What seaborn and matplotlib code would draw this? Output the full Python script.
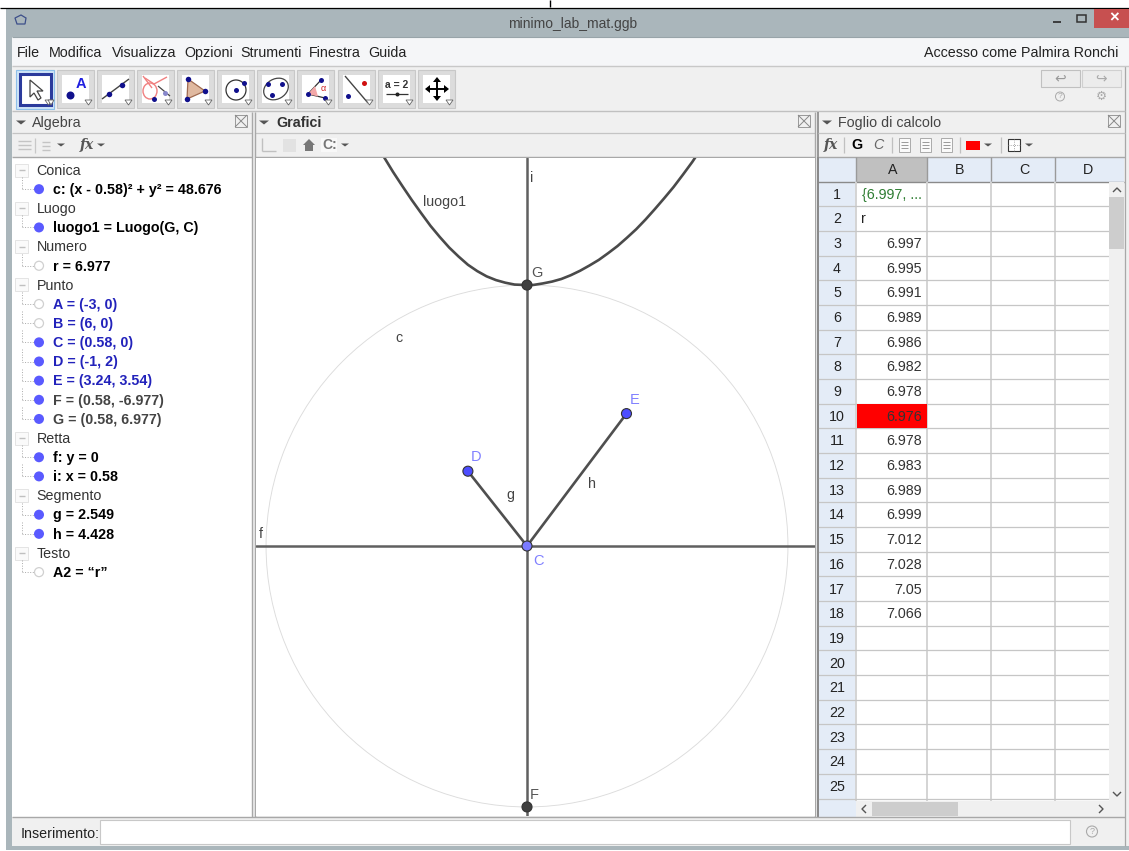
#!/usr/bin/env python3

import matplotlib
matplotlib.use("Agg")
import matplotlib.pyplot as plt
from matplotlib.patches import Circle, Ellipse, Polygon, Rectangle
import seaborn as sns

sns.set_theme(style="white")
plt.rcParams["font.family"] = ["Liberation Sans", "DejaVu Sans"]

# geometry read from the graphics view
point_names = ["C", "D", "E", "F", "G"]
point_x = [0.58, -1, 3.24, 0.58, 0.58]
point_y = [0, 2, 3.54, -6.977, 6.977]
radius = 6.977
locus_x = [-3.3, -3, -2.75, -2.5, -2.25, -2, -1.75, -1.5, -1.25, -1, -0.75, -0.5, -0.25, 0, 0.25,
           0.58, 0.75, 1, 1.25, 1.5, 1.75, 2, 2.25, 2.5, 2.75, 3, 3.25, 3.5, 3.75, 4, 4.25, 4.5, 4.75, 5, 5.2]
locus_y = [10.49, 10.0, 9.62, 9.25, 8.9, 8.56, 8.26, 7.98, 7.74, 7.52, 7.35, 7.21, 7.11, 7.04, 6.99,
           6.977, 6.98, 7.02, 7.07, 7.14, 7.24, 7.36, 7.5, 7.65, 7.83, 8.02, 8.24, 8.47, 8.73, 9.01, 9.3, 9.6, 9.93, 10.27, 10.57]

# algebra view
algebra_groups = ["Conica", "Luogo", "Numero", "Punto", "Retta", "Segmento", "Testo"]
algebra_items = [
    ["c: (x - 0.58)² + y² = 48.676"],
    ["luogo1 = Luogo(G, C)"],
    ["r = 6.977"],
    ["A = (-3, 0)", "B = (6, 0)", "C = (0.58, 0)", "D = (-1, 2)", "E = (3.24, 3.54)",
     "F = (0.58, -6.977)", "G = (0.58, 6.977)"],
    ["f: y = 0", "i: x = 0.58"],
    ["g = 2.549", "h = 4.428"],
    ["A2 = “r”"],
]
hidden_items = ["r = 6.977", "A = (-3, 0)", "B = (6, 0)", "A2 = “r”"]
blue_items = ["A = (-3, 0)", "B = (6, 0)", "C = (0.58, 0)", "D = (-1, 2)", "E = (3.24, 3.54)"]
grey_items = ["F = (0.58, -6.977)", "G = (0.58, 6.977)"]

# spreadsheet
column_names = ["A", "B", "C", "D"]
column_edges = [856, 927, 991, 1055, 1118]
row_numbers = list(range(1, 26))
r_values = ["6.997", "6.995", "6.991", "6.989", "6.986", "6.982", "6.978", "6.976", "6.978",
            "6.983", "6.989", "6.999", "7.012", "7.028", "7.05", "7.066"]

menu_names = ["File", "Modifica", "Visualizza", "Opzioni", "Strumenti", "Finestra", "Guida"]
menu_pos = [17, 49, 112, 184, 240, 309, 368]
tool_edges = [17, 57, 97, 137, 177, 217, 257, 297, 338, 378, 418]

WINDOW = "#aab6bb"
PANEL = "#f0f0f0"
BORDER = "#a8a8a8"
HEADER = "#e4ecf7"
TEXT = "#222222"
BLUE_DOT = "#5a5aff"
NAVY = "#10108c"
FS = 10.3


def rect(ax, x0, y0, x1, y1, color, edge=None, lw=0.8, z=1):
    ax.add_patch(Rectangle((x0, y0), x1 - x0, y1 - y0, facecolor=color, edgecolor=edge or "none", linewidth=lw, zorder=z))


def line(ax, xs, ys, color="#333333", lw=1.0, z=3, ls="-"):
    ax.plot(xs, ys, color=color, lw=lw, zorder=z, ls=ls, solid_capstyle="butt")


def dot(ax, x, y, size=6, color=NAVY, z=4):
    ax.plot([x], [y], "o", ms=size * 0.72, mfc=color, mec="none", zorder=z)


def label(ax, x, y, s, size=FS, color=TEXT, ha="left", **kw):
    ax.text(x, y + 0.8, s, fontsize=size, color=color, ha=ha, va="center", zorder=5, **kw)


def triangle(ax, x, y, w=5, h=4, color="#555555", z=4):
    ax.add_patch(Polygon([(x - w, y - h / 2), (x + w, y - h / 2), (x, y + h / 2)], closed=True, facecolor=color, edgecolor="none", zorder=z))


def draw_window(ax):
    rect(ax, 0, 0, 1129, 8, "white")
    line(ax, [0, 1129], [7.5, 7.5], "black", 0.9)
    line(ax, [550, 550], [0, 7], "black", 1.0)
    rect(ax, 340, 8, 420, 9, "#8c8c7c", z=2)
    rect(ax, 483, 8, 840, 9, "#9a9a9a", z=2)
    rect(ax, 6, 9, 1129, 851, WINDOW)
    rect(ax, 12, 37, 1129, 846, PANEL)
    line(ax, [1124.5, 1124.5], [66, 846], "#a8a8a8", 0.9)
    rect(ax, 6, 850, 1129, 851, "white", z=2)

    label(ax, 573, 23, "minimo_lab_mat.ggb", size=10, color="#444444", ha="center")
    ax.add_patch(Polygon([(21, 15), (26, 18), (25, 24), (17, 24), (15, 18)], closed=True, fill=False, edgecolor="#3d4f8a", lw=0.9, zorder=4))
    rect(ax, 1094, 9, 1129, 28, "#c75050", z=3)
    label(ax, 1114, 17.5, "×", size=12, color="white", ha="center", fontweight="bold")
    line(ax, [1053, 1061], [22, 22], "#333333", 1.3)
    rect(ax, 1077, 15, 1086, 22, "none", edge="#333333", lw=1.1, z=4)

    rect(ax, 12, 37, 1129, 66, "#f5f6f8", z=2)
    line(ax, [12, 1129], [66, 66], "#c8c8c8", 1.0)
    line(ax, [12, 1129], [37, 37], "#98a4a9", 0.8)
    for name, pos in zip(menu_names, menu_pos):
        label(ax, pos, 52, name)
    label(ax, 1118, 52, "Accesso come Palmira Ronchi", ha="right")

    line(ax, [12, 1125], [111, 111], "#c0c0c0", 1.0)
    # undo, redo, help, settings
    rect(ax, 1041, 70, 1080, 87, "#ececec", edge="#c0c0c0", z=3)
    rect(ax, 1082, 70, 1121, 87, "#ececec", edge="#d0d0d0", z=3)
    label(ax, 1060, 77.5, "↩", size=10, color="#999999", ha="center")
    label(ax, 1101, 77.5, "↪", size=10, color="#aaaaaa", ha="center")
    ax.add_patch(Circle((1060, 96.5), 4.5, fill=False, edgecolor="#aaaaaa", lw=0.7, zorder=4))
    label(ax, 1060, 96, "?", size=6, color="#aaaaaa", ha="center")
    label(ax, 1101, 96, "⚙", size=9, color="#aaaaaa", ha="center")


def draw_tools(ax):
    for x0 in tool_edges:
        rect(ax, x0, 70, x0 + 37, 108, "#dcdcdc", edge="#c8c8c8", z=2)
        rect(ax, x0 + 5, 75, x0 + 32, 103, "white", z=3)
        tri = [(x0 + 28, 100), (x0 + 35, 100), (x0 + 31.5, 105)]
        ax.add_patch(Polygon(tri, closed=True, facecolor="white", edgecolor="#666666", lw=0.6, zorder=6))
    # selected arrow tool
    rect(ax, 16, 70, 54, 109, "#cfe4f7", edge="#8ec0ea", z=3)
    rect(ax, 19.5, 73.5, 50.5, 105, "white", edge="#2b3a9c", lw=2.2, z=3.5)
    arrow = [(30, 80), (30, 97), (34, 93), (38, 100), (41, 98), (37, 91), (43, 91)]
    ax.add_patch(Polygon(arrow, closed=True, facecolor="white", edgecolor="#444444", lw=0.9, zorder=5))
    tri = [(48, 100), (54, 100), (51, 105)]
    ax.add_patch(Polygon(tri, closed=True, facecolor="white", edgecolor="#666666", lw=0.6, zorder=6))
    # point
    dot(ax, 70, 95, 8)
    label(ax, 80.5, 83, "A", size=10.5, color="#2020e0", ha="center", fontweight="bold")
    # line through two points
    line(ax, [102, 129], [99, 79], "#444444", 1.0)
    dot(ax, 109, 94, 5.5)
    dot(ax, 122, 85, 5.5)
    # conic and intersect
    ax.add_patch(Ellipse((150, 91), 14, 16, fill=False, edgecolor="#f08080", lw=1.0, zorder=4))
    line(ax, [145, 154, 167], [78, 84, 77], "#f08080", 1.0)
    line(ax, [143, 152], [76, 88], "#f08080", 1.0)
    line(ax, [158, 170], [86, 96], "#444444", 0.9)
    dot(ax, 154, 99, 5)
    dot(ax, 165, 93, 5, "#8888cc")
    # polygon
    tri = [(188, 79), (205, 91), (187, 99)]
    ax.add_patch(Polygon(tri, closed=True, facecolor="#e0b9a0", edgecolor="#a06a50", lw=0.9, zorder=4))
    for x, y in tri:
        dot(ax, x, y, 5.5, z=5)
    # circle
    ax.add_patch(Circle((236, 90), 10, fill=False, edgecolor="#333333", lw=0.9, zorder=4))
    dot(ax, 236, 90, 5)
    dot(ax, 244, 83, 5)
    # ellipse
    ax.add_patch(Ellipse((276, 89), 26, 20, angle=-30, fill=False, edgecolor="#444444", lw=0.9, zorder=4))
    for x, y in [(268, 84), (282, 84), (272, 95)]:
        dot(ax, x, y, 5)
    # angle
    line(ax, [308, 321], [94, 80], "#333333", 0.9)
    line(ax, [308, 325], [94, 98], "#333333", 0.9)
    ax.add_patch(Polygon([(308, 94), (315, 86), (318, 96.5)], closed=True, facecolor="#f3a7a7", edgecolor="none", zorder=4))
    label(ax, 323, 88, "α", size=6.5, color="#d02020", ha="center")
    for x, y in [(308, 94), (321, 80), (325, 98)]:
        dot(ax, x, y, 5, z=5)
    # perpendicular line
    line(ax, [345, 368], [76, 103], "#444444", 1.0)
    dot(ax, 364, 83, 5, "#d01010")
    dot(ax, 348, 96, 5)
    # slider
    label(ax, 397, 84, "a = 2", size=7.5, color="#333333", ha="center", fontweight="bold")
    line(ax, [386, 408], [94, 94], "#333333", 0.9)
    dot(ax, 397, 94, 4, "#222222")
    # move view
    line(ax, [437, 437], [81, 97], "black", 1.4, z=5)
    line(ax, [429, 445], [89, 89], "black", 1.4, z=5)
    for pts in ([(437, 77), (433, 82), (441, 82)], [(437, 101), (433, 96), (441, 96)],
                [(425, 89), (430, 85), (430, 93)], [(449, 89), (444, 85), (444, 93)]):
        ax.add_patch(Polygon(pts, closed=True, facecolor="black", edgecolor="none", zorder=5))


def draw_panel_header(ax, x0, x1, title, bold=False):
    line(ax, [x0, x1], [133, 133], "#c4c4c4", 0.9)
    line(ax, [x0, x1], [157, 157], BORDER, 1.0)
    triangle(ax, x0 + 9, 122.5)
    label(ax, x0 + (21 if bold else 20), 122.5, title, color="#444444" if not bold else "#333333", fontweight="bold" if bold else "normal")
    rect(ax, x1 - 17, 115, x1 - 5, 127, PANEL, edge="#999999", lw=0.7, z=4)
    line(ax, [x1 - 17, x1 - 5], [115, 127], "#888888", 0.7, z=5)
    line(ax, [x1 - 17, x1 - 5], [127, 115], "#888888", 0.7, z=5)


def draw_algebra(ax):
    rect(ax, 12, 157, 252, 817, "white", z=2)
    draw_panel_header(ax, 12, 252, "Algebra")
    line(ax, [252, 252], [112, 817], BORDER, 1.0)
    # toolbar of the algebra panel
    for y in (141, 145, 149):
        line(ax, [18, 31], [y, y], "#c4c4c4", 1.0)
    line(ax, [35, 35], [138, 153], "#c8c8c8", 0.9)
    for y in (142, 146, 150):
        line(ax, [42, 50], [y, y], "#c4c4c4", 1.0)
    triangle(ax, 61, 145, 4, 3)
    label(ax, 87, 144, "fx", size=10, color="#555555", ha="center", fontstyle="italic", fontweight="bold", family=["DejaVu Serif"])
    triangle(ax, 101, 145, 4, 3)

    y = 170.0
    step = 19.15
    for group, items in zip(algebra_groups, algebra_items):
        rect(ax, 15, y - 6.5, 28, y + 6.5, "#fafafa", edge="#e4e4e4", lw=0.7, z=3)
        line(ax, [18.5, 24.5], [y, y], "#c0c0c0", 1.0, z=4)
        label(ax, 36.5, y, group, color="#333333")
        for i, item in enumerate(items):
            row = y + step * (i + 1)
            line(ax, [22, 34], [row, row], "#aaaaaa", 0.7, ls=":")
            line(ax, [22, 22], [row - step + 7, row], "#aaaaaa", 0.7, ls=":")
            if item in hidden_items:
                ax.add_patch(Circle((39, row), 4.5, facecolor="white", edgecolor="#d0d0d0", lw=0.9, zorder=4))
            else:
                ax.add_patch(Circle((39, row), 5, facecolor=BLUE_DOT, edgecolor="none", zorder=4))
            color = "#2222bb" if item in blue_items else ("#444444" if item in grey_items else "black")
            label(ax, 53, row, item, color=color, fontweight="bold")
        y += step * (len(items) + 1)


def draw_graphics_header(ax):
    draw_panel_header(ax, 255, 815, "Grafici", bold=True)
    line(ax, [255, 255], [112, 817], BORDER, 1.0)
    line(ax, [815, 815], [112, 817], BORDER, 1.0)
    line(ax, [818, 818], [112, 817], "#888888", 1.2)
    line(ax, [262, 262], [138, 151], "#c0c0c0", 1.0)
    line(ax, [262, 276], [151, 151], "#c0c0c0", 1.0)
    rect(ax, 283, 139, 296, 152, "#e2e2e2", z=3)
    ax.add_patch(Polygon([(309, 139), (315, 145), (313, 145), (313, 151), (305, 151), (305, 145), (303, 145)],
                         closed=True, facecolor="#777777", edgecolor="none", zorder=4))
    rect(ax, 321, 138, 337, 152, "#f8f8f8", z=3)
    label(ax, 330, 144.5, "C:", size=10, color="#777777", ha="center", fontweight="bold")
    triangle(ax, 345, 145, 4, 3)


def draw_spreadsheet(ax):
    draw_panel_header(ax, 818, 1125, "Foglio di calcolo")
    # toolbar
    label(ax, 831, 144, "fx", size=10, color="#555555", ha="center", fontstyle="italic", fontweight="bold", family=["DejaVu Serif"])
    line(ax, [844, 844], [137, 153], "#c0c0c0", 0.9)
    label(ax, 857, 144.5, "G", color="black", ha="center", fontweight="bold")
    label(ax, 878, 144.5, "C", color="#666666", ha="center", fontstyle="italic")
    line(ax, [892, 892], [137, 153], "#c0c0c0", 0.9)
    for x0 in (899, 920, 941):
        rect(ax, x0, 138, x0 + 11, 152, "#fafafa", edge="#aaaaaa", lw=0.7, z=3)
        for y in (142, 145, 148):
            line(ax, [x0 + 2, x0 + 9], [y, y], "#999999", 0.7, z=4)
    line(ax, [960, 960], [137, 153], "#c0c0c0", 0.9)
    rect(ax, 966, 141, 980, 150, "#ff0000", z=3)
    triangle(ax, 988, 145, 4, 3)
    line(ax, [1001, 1001], [137, 153], "#c0c0c0", 0.9)
    rect(ax, 1008, 139, 1020, 151, "white", edge="#333333", lw=0.8, z=3)
    line(ax, [1014, 1014], [139, 151], "#888888", 0.6, z=4, ls=":")
    line(ax, [1008, 1020], [145, 145], "#888888", 0.6, z=4, ls=":")
    triangle(ax, 1029, 145, 4, 3)

    # grid
    top = 181.5
    row_h = 24.68
    rect(ax, 818, 157, 1124, 181.5, HEADER, z=2)
    rect(ax, 818, 181.5, 856, 817, HEADER, z=2)
    rect(ax, 856, 181.5, 1109, 801, "white", z=2)
    rect(ax, 856, 157, 927, 181.5, "#c0c0c0", z=2.5)
    line(ax, [818, 1124], [181.5, 181.5], "#8a8a8a", 1.0)
    for edge in column_edges[:-1]:
        line(ax, [edge, edge], [157, 181], "#9a9a9a", 1.0)
        line(ax, [edge, edge], [182, 801], "#d4d4d4", 1.4)
    for name, x0, x1 in zip(column_names, column_edges[:-1], column_edges[1:]):
        label(ax, (x0 + x1) / 2 + (1 if name == "D" else 0) + 1, 169.5, name, ha="center")
    for n in row_numbers:
        y = top + row_h * n
        line(ax, [818, 1109], [y, y], "#c6c6c6", 0.9)
        label(ax, 837, y - row_h / 2, str(n), ha="center")
    rect(ax, 856.5, top + row_h * 9, 927, top + row_h * 10, "#ff0000", z=3)
    label(ax, 862, top + row_h / 2, "{6.997, ...", color="#2e7d32")
    label(ax, 861, top + row_h * 1.5, "r")
    for n, value in enumerate(r_values):
        label(ax, 922, top + row_h * (n + 2.5), value, color="#333333", ha="right")
    line(ax, [818, 818], [157, 817], "#888888", 1.2)

    # scrollbars
    rect(ax, 1109, 181.5, 1124, 817, PANEL, z=3)
    rect(ax, 1109, 197, 1124, 249, "#cdcdcd", z=4)
    rect(ax, 856, 801, 1109, 817, PANEL, z=3)
    rect(ax, 872, 802, 958, 816, "#cdcdcd", z=4)
    line(ax, [1113, 1117, 1121], [192, 188, 192], "#555555", 1.0, z=5)
    line(ax, [1113, 1117, 1121], [792, 796, 792], "#555555", 1.0, z=5)
    line(ax, [866, 862, 866], [805, 809, 813], "#555555", 1.0, z=5)
    line(ax, [1099, 1103, 1099], [805, 809, 813], "#555555", 1.0, z=5)


def draw_input_bar(ax):
    line(ax, [12, 1125], [817, 817], BORDER, 1.0)
    rect(ax, 12, 818, 1124, 846, PANEL, z=2)
    label(ax, 21, 833, "Inserimento:")
    rect(ax, 100, 820, 1070, 844, "white", edge="#c8c8c8", z=3)
    ax.add_patch(Circle((1092, 831.5), 5.5, fill=False, edgecolor="#aaaaaa", lw=0.8, zorder=4))
    label(ax, 1092, 830.5, "?", size=6.5, color="#aaaaaa", ha="center")


def draw_geometry(ax):
    cx, cy = point_x[0], point_y[0]
    ax.add_patch(Circle((cx, cy), radius, fill=False, edgecolor="#dcdcdc", lw=0.65, zorder=1))
    ax.axhline(cy, color="#606060", lw=1.8, zorder=2)
    ax.axvline(cx, color="#606060", lw=1.8, zorder=2)
    sns.lineplot(x=locus_x, y=locus_y, ax=ax, color="#4a4a4a", lw=1.9, estimator=None, sort=False, legend=False, zorder=3)
    sns.lineplot(x=[cx, point_x[1]], y=[cy, point_y[1]], ax=ax, color="#4f4f4f", lw=1.9, estimator=None, sort=False, legend=False, zorder=3)
    sns.lineplot(x=[cx, point_x[2]], y=[cy, point_y[2]], ax=ax, color="#4f4f4f", lw=1.9, estimator=None, sort=False, legend=False, zorder=3)
    colors = ["#7a7aff", "#4d4dff", "#4d4dff", "#404040", "#404040"]
    sns.scatterplot(x=point_x, y=point_y, ax=ax, hue=point_names, palette=dict(zip(point_names, colors)), s=52,
                    edgecolor="#333333", linewidth=0.8, legend=False, zorder=4)
    offsets = {"C": (6, 15), "D": (3, -14), "E": (3, -14), "F": (3, -12), "G": (4, -12)}
    for name, x, y in zip(point_names, point_x, point_y):
        dx, dy = offsets[name]
        color = "#8080ff" if name in "CDE" else "#555555"
        ax.annotate(name, (x, y), xytext=(dx * 0.72, -dy * 0.72), textcoords="offset points", fontsize=10.5, color=color, va="center", zorder=5)
    for text, x, y in [("luogo1", -2.2, 9.2), ("c", -2.95, 5.55), ("i", 0.66, 9.85), ("f", -6.58, 0.32), ("g", 0.04, 1.36), ("h", 2.2, 1.67)]:
        ax.text(x, y, text, fontsize=FS, color="#444444", va="center", zorder=5)


fig = plt.figure(figsize=(11.29, 8.51), dpi=100)
chrome = fig.add_axes([0, 0, 1, 1])
chrome.set_xlim(0, 1129)
chrome.set_ylim(851, 0)
chrome.axis("off")

draw_window(chrome)
draw_tools(chrome)
draw_algebra(chrome)
draw_graphics_header(chrome)
draw_spreadsheet(chrome)
draw_input_bar(chrome)

# graphics view, 37.4 px per unit, C at pixel (527, 546)
left, right, top_px, bottom_px = 256, 815, 157.5, 816
graph = fig.add_axes([left / 1129, 1 - bottom_px / 851, (right - left) / 1129, (bottom_px - top_px) / 851])
draw_geometry(graph)
graph.set_xlim(0.58 + (left - 527) / 37.4, 0.58 + (right - 527) / 37.4)
graph.set_ylim((546 - bottom_px) / 37.4, (546 - top_px) / 37.4)
graph.set_xticks([])
graph.set_yticks([])
graph.set_facecolor("white")
for spine in graph.spines.values():
    spine.set_visible(False)

fig.savefig("out.png", dpi=100)
plt.close(fig)
